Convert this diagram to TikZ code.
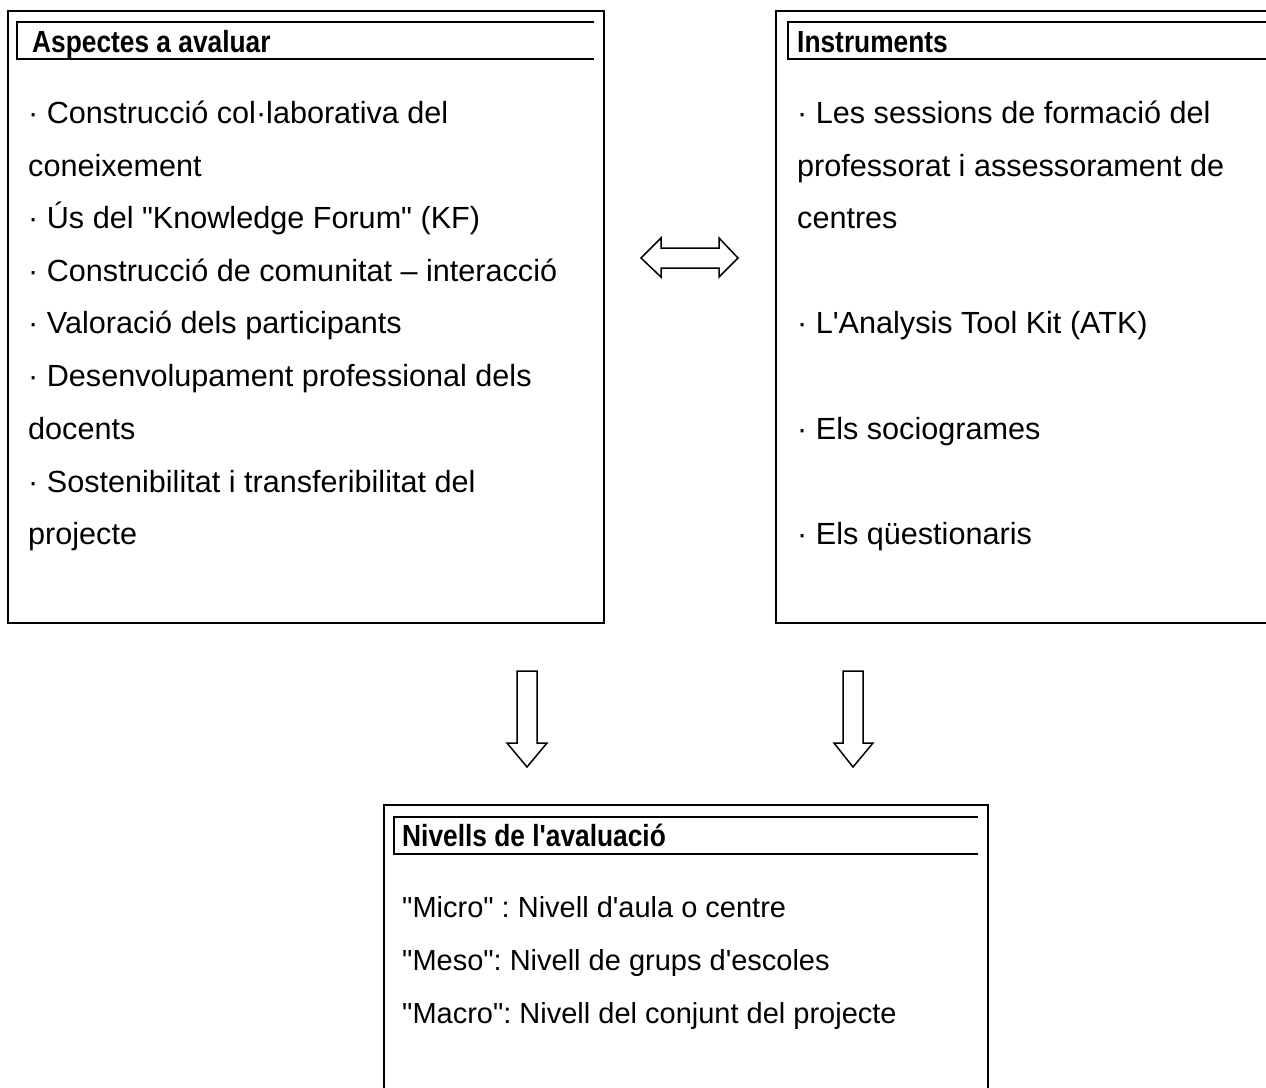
\documentclass[tikz,border=0pt]{standalone}
\usepackage{fontspec}
\usepackage{graphicx}
\setmainfont{Liberation Sans}[Ligatures=TeXOff]
\newcommand{\hdtext}[1]{\scalebox{0.86}[1]{\bfseries #1}}
\begin{document}
\frenchspacing
\begin{tikzpicture}[x=1pt,y=-1pt,
  frame/.style={draw=black,line width=2pt},
  hline/.style={draw=black,line width=2pt},
  body/.style={anchor=base west,inner sep=0pt,font=\fontsize{30.6}{36}\selectfont},
  bodysmall/.style={anchor=base west,inner sep=0pt,font=\fontsize{29}{34}\selectfont},
  head/.style={anchor=base west,inner sep=0pt,font=\fontsize{30.6}{36}\selectfont},
  blockarrow/.style={draw=black,line width=1.5pt,fill=white,line join=miter}]
\useasboundingbox (0,0) rectangle (1266,1087);
% left box
\draw[frame] (8,11) rectangle (604,623);
\draw[hline] (594,22) -- (17,22) -- (17,59) -- (594,59);
\node[head] (ha) at (32,52) {\hdtext{Aspectes a avaluar}};
\node[body] (a1) at (28,123) {· Construcció col·laborativa del};
\node[body] (a2) at (28,176) {coneixement};
\node[body] (a3) at (28,228) {· Ús del "Knowledge Forum" (KF)};
\node[body] (a4) at (28,281) {· Construcció de comunitat – interacció};
\node[body] (a5) at (28,333) {· Valoració dels participants};
\node[body] (a6) at (28,386) {· Desenvolupament professional dels};
\node[body] (a7) at (28,439) {docents};
\node[body] (a8) at (28,492) {· Sostenibilitat i transferibilitat del};
\node[body] (a9) at (28,544) {projecte};
% right box
\draw[frame] (1275,11) -- (776,11) -- (776,623) -- (1275,623);
\draw[hline] (1275,22) -- (788,22) -- (788,59) -- (1275,59);
\node[head] (hi) at (797,52) {\hdtext{Instruments}};
\node[body] (i1) at (797,123) {· Les sessions de formació del};
\node[body] (i2) at (797,176) {professorat i assessorament de};
\node[body] (i3) at (797,228) {centres};
\node[body] (i4) at (797,333) {· L'Analysis Tool Kit (ATK)};
\node[body] (i5) at (797,439) {· Els sociogrames};
\node[body] (i6) at (797,544) {· Els qüestionaris};
% bottom box
\draw[frame] (384,1095) -- (384,805) -- (988,805) -- (988,1095);
\draw[hline] (978,817) -- (394,817) -- (394,854) -- (978,854);
\node[head] (hn) at (402,846) {\hdtext{Nivells de l'avaluació}};
\node[bodysmall] (n1) at (402,917) {"Micro" : Nivell d'aula o centre};
\node[bodysmall] (n2) at (402,970) {"Meso": Nivell de grups d'escoles};
\node[bodysmall] (n3) at (402,1023) {"Macro": Nivell del conjunt del projecte};
% double arrow
\draw[blockarrow] (641,258) -- (661,238) -- (661,248) -- (719,248) -- (719,238) -- (738,258)
  -- (719,277) -- (719,268) -- (661,268) -- (661,277) -- cycle;
% down arrows
\draw[blockarrow] (517,671) -- (537,671) -- (537,743) -- (547,743) -- (527,767) -- (507,743) -- (517,743) -- cycle;
\draw[blockarrow] (843,671) -- (863,671) -- (863,743) -- (873,743) -- (853,767) -- (834,743) -- (843,743) -- cycle;
\end{tikzpicture}
\end{document}
